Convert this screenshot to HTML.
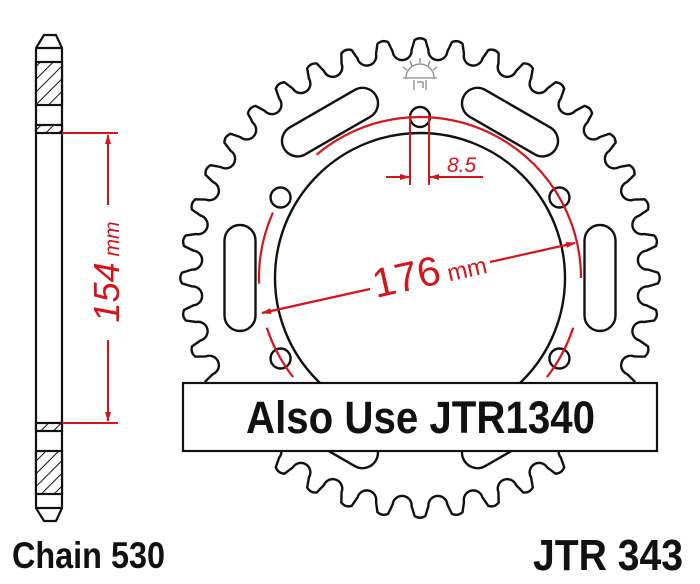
<!DOCTYPE html>
<html><head><meta charset="utf-8"><style>
html,body{margin:0;padding:0;background:#fff;}
svg{display:block;}
</style></head><body>
<svg id="s" width="700" height="584" viewBox="0 0 700 584" xmlns="http://www.w3.org/2000/svg">
<defs>
<pattern id="h" patternUnits="userSpaceOnUse" width="9" height="9" patternTransform="rotate(45)">
<rect width="9" height="9" fill="#fff"/><line x1="0" y1="0" x2="0" y2="9" stroke="#111" stroke-width="2"/>
</pattern>
<marker id="ar" markerWidth="10" markerHeight="8" refX="9" refY="4" orient="auto" markerUnits="userSpaceOnUse">
<path d="M0,1 L10,4 L0,7 Z" fill="#d8141b"/></marker>
</defs>
<g stroke="#111" stroke-width="2.2" fill="#fff">
<path d="M44,35 L56,35 L62,48 L62,508 L56,521 L44,521 L36,508 L36,48 Z"/>
<rect x="36" y="62" width="26" height="43" fill="url(#h)"/>
<rect x="36" y="125" width="26" height="8" fill="url(#h)"/>
<rect x="36" y="423" width="26" height="8" fill="url(#h)"/>
<rect x="36" y="451" width="26" height="43" fill="url(#h)"/>
<line x1="36" y1="48" x2="62" y2="48"/><line x1="36" y1="508" x2="62" y2="508"/>
</g>
<g stroke="#d8141b" stroke-width="2" fill="none">
<line x1="62" y1="133" x2="118" y2="133"/><line x1="62" y1="423" x2="118" y2="423"/>
<line x1="108" y1="205" x2="108" y2="135" marker-end="url(#ar)"/>
<line x1="108" y1="340" x2="108" y2="421" marker-end="url(#ar)"/>
</g>
<text transform="translate(119,272) rotate(-90)" text-anchor="middle" font-family="Liberation Sans,sans-serif" font-style="italic" fill="#d8141b"><tspan font-size="36">154</tspan><tspan font-size="21"> mm</tspan></text>
<path id="gear" fill="#fff" stroke="#111" stroke-width="2.4" d=""/>
<circle cx="420" cy="278" r="145" fill="#fff" stroke="#111" stroke-width="2.4"/>
<g id="slots" fill="#fff" stroke="#111" stroke-width="2.4"></g>
<g id="holes" fill="#fff" stroke="#111" stroke-width="2.4"></g>
<g id="red" stroke="#d8141b" stroke-width="2.2" fill="none"></g>
<g stroke="#888" stroke-width="1.3" fill="none">
<path d="M406,78 A14,14 0 0 1 434,78"/>
<line x1="403" y1="78" x2="437" y2="78"/>
<line x1="420" y1="58" x2="420" y2="63"/><line x1="410" y1="61" x2="412" y2="66"/><line x1="430" y1="61" x2="428" y2="66"/>
<line x1="403" y1="67" x2="407" y2="70"/><line x1="437" y1="67" x2="433" y2="70"/>
<path d="M414,80 L414,90 M426,80 L426,90 M417,82 L423,82 L423,88"/>
</g>
<g stroke="#d8141b" stroke-width="2" fill="none">
<line x1="410" y1="115" x2="410" y2="185"/><line x1="429" y1="115" x2="429" y2="185"/>
<line x1="386" y1="177" x2="409" y2="177" marker-end="url(#ar)"/>
<line x1="483" y1="177" x2="430" y2="177" marker-end="url(#ar)"/>
</g>
<text x="447" y="172" font-family="Liberation Sans,sans-serif" font-style="italic" font-size="21" fill="#d8141b">8.5</text>
<g stroke="#d8141b" stroke-width="2.2" fill="none">
<line x1="370" y1="289" x2="262" y2="313" marker-end="url(#ar)"/>
<line x1="490" y1="262" x2="575" y2="243" marker-end="url(#ar)"/>
</g>
<text transform="translate(376,298) rotate(-12.7)" font-family="Liberation Sans,sans-serif" fill="#d8141b"><tspan font-size="41">176</tspan><tspan font-size="24"> mm</tspan></text>
<rect x="183" y="383" width="474" height="68" fill="#fff" stroke="#111" stroke-width="2.2"/>
<text x="246" y="433" font-family="Liberation Sans,sans-serif" font-weight="bold" font-size="45" textLength="349" lengthAdjust="spacingAndGlyphs" fill="#111">Also Use JTR1340</text>
<text x="533" y="570" font-family="Liberation Sans,sans-serif" font-weight="bold" font-size="44" textLength="150" lengthAdjust="spacingAndGlyphs" fill="#111">JTR 343</text>
<text x="12" y="568" font-family="Liberation Sans,sans-serif" font-weight="bold" font-size="37" textLength="153" lengthAdjust="spacingAndGlyphs" fill="#111">Chain 530</text>
</svg>
<script>
(function(){
var NS="http://www.w3.org/2000/svg",cx=420,cy=278;
function P(r,a){a=a*Math.PI/180;return [cx+r*Math.sin(a),cy-r*Math.cos(a)];}
function f(p){return p[0].toFixed(2)+","+p[1].toFixed(2);}
var N=40,p=360/N,d="",Rt=239,Rc=228,rr=9.5;
for(var k=0;k<N;k++){
 var a=k*p;
 var t1=P(Rt-1,a-1.3),t2=P(Rt-1,a+1.3);
 var va=a+p/2; var c=P(Rc,va);
 var ang=va*Math.PI/180; var tx=Math.cos(ang),ty=Math.sin(ang);
 var v1=[c[0]-rr*tx,c[1]-rr*ty],v2=[c[0]+rr*tx,c[1]+rr*ty];
 d+=(k==0?"M":"L")+f(t1)+" Q"+f(P(Rt+2.5,a))+" "+f(t2)+" L"+f(v1)+" A"+rr+","+rr+" 0 0 0 "+f(v2)+" ";
 d+="L"+f(P(Rt-1,a+p-1.3))+" ";
}
document.getElementById("gear").setAttribute("d",d+"Z");
var sl=document.getElementById("slots");
[30,90,150,-30,-90,-150].forEach(function(a){
 var c=P(180,a),r=document.createElementNS(NS,"rect");
 r.setAttribute("x",c[0]-15.5);r.setAttribute("y",c[1]-53);r.setAttribute("width",31);r.setAttribute("height",106);r.setAttribute("rx",15.5);
 r.setAttribute("transform","rotate("+(a-90)+" "+c[0]+" "+c[1]+")");sl.appendChild(r);
});
var ho=document.getElementById("holes");
[0,60,120,180,-60,-120].forEach(function(a){
 var c=P(161,a),e=document.createElementNS(NS,"circle");
 e.setAttribute("cx",c[0]);e.setAttribute("cy",c[1]);e.setAttribute("r",10);ho.appendChild(e);
});
var rd=document.getElementById("red");
[[-40,90],[-92,-66],[-128,-108],[108,128]].forEach(function(s){
 var a=P(161,s[0]),b=P(161,s[1]),e=document.createElementNS(NS,"path");
 e.setAttribute("d","M"+f(a)+" A161,161 0 0 1 "+f(b));rd.appendChild(e);
});
})();
</script>
</body></html>
